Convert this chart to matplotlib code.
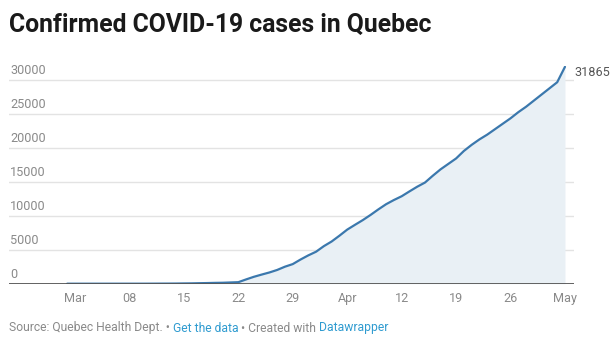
import matplotlib
matplotlib.use("Agg")
import matplotlib.pyplot as plt
import matplotlib.dates as mdates
import numpy as np
import datetime as dt

plt.rcParams['font.family'] = ['Roboto', 'DejaVu Sans']

# daily cumulative confirmed cases, Feb 29 .. May 3 2020
start = dt.date(2020, 2, 29)
cases = [1, 1, 1, 1, 1, 1, 2, 2, 3, 3, 4, 8, 13, 17, 24, 39, 50, 74, 94, 121,
         139, 181, 221, 628, 1013, 1339, 1650, 2021, 2500, 2880, 3550, 4162,
         4700, 5518, 6200, 7050, 7944, 8650, 9340, 10100, 10912, 11677, 12292,
         12846, 13557, 14248, 14860, 15857, 16798, 17600, 18400, 19500, 20400,
         21200, 21900, 22700, 23500, 24300, 25200, 26000, 26900, 27800, 28700,
         29600, 31865]
dates = [start + dt.timedelta(days=i) for i in range(len(cases))]

tick_dates = [dt.date(2020, 3, 1) + dt.timedelta(days=7 * i) for i in range(10)]
tick_labels = ['Mar', '08', '15', '22', '29', 'Apr', '12', '19', '26', 'May']
y_ticks = [0, 5000, 10000, 15000, 20000, 25000, 30000]

title = 'Confirmed COVID-19 cases in Quebec'
source = 'Source: Quebec Health Dept. \u2022 '
link1 = 'Get the data'
created = ' \u2022 Created with '
link2 = 'Datawrapper'

W, H = 615, 349
fig = plt.figure(figsize=(W / 100, H / 100), dpi=100)
ax = fig.add_axes([9 / W, (H - 283.7) / H, 565 / W, 217.8 / H])

mar1 = mdates.date2num(dt.date(2020, 3, 1))
ax.set_xlim(mar1 - 8.48, mar1 + 64.16)
ax.set_ylim(0, 32000)

x = mdates.date2num(dates)
ax.fill_between(x, cases, 0, color='#e9f0f5', lw=0, zorder=1)
ax.plot(x, cases, color='#3b78ad', lw=1.6, solid_capstyle='round', zorder=3)

lab_size = 9.1
for v in y_ticks[1:]:
    ax.axhline(v, color='#e3e3e3', lw=1.0, zorder=0)
for v in y_ticks:
    ax.annotate(str(v), xy=(0, v), xycoords=('axes fraction', 'data'),
                xytext=(1, 4), textcoords='offset points',
                ha='left', va='baseline', fontsize=lab_size, color='#8a8a8a')
ax.axhline(0, color='#555555', lw=1.3, zorder=4)

ax.annotate(f'{cases[-1]}', xy=(x[-1], cases[-1]), xytext=(7, -4),
            textcoords='offset points', ha='left', va='center',
            fontsize=lab_size, color='#555555', annotation_clip=False)

ax.set_xticks(mdates.date2num(tick_dates))
ax.set_xticklabels(tick_labels)
ax.tick_params(axis='x', length=0, pad=6, labelsize=lab_size, labelcolor='#8a8a8a')
ax.set_yticks([])
for s in ax.spines.values():
    s.set_visible(False)

fig.text(9 / W, 1 - 24.5 / H, title, fontsize=17.8, fontweight='bold',
         color='#1a1a1a', ha='left', va='center')

# footer pieces laid out one after another
renderer = fig.canvas.get_renderer()
xpos = 9 / W
for txt, col in [(source, '#8a8a8a'), (link1, '#2f9bd0'),
                 (created, '#8a8a8a'), (link2, '#2f9bd0')]:
    t = fig.text(xpos, 1 - 328 / H, txt, fontsize=8.7, color=col,
                 ha='left', va='center')
    bb = t.get_window_extent(renderer)
    xpos += bb.width / W

fig.savefig('out.png', dpi=100)
